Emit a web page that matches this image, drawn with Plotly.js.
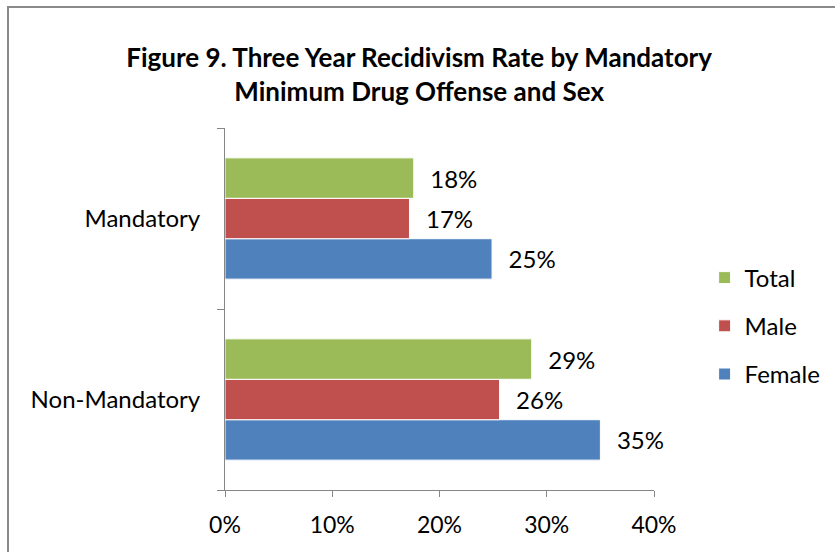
<!DOCTYPE html>
<html>
<head>
<meta charset="utf-8">
<script src="https://cdn.plot.ly/plotly-3.0.1.min.js"></script>
<style>
  html, body { margin:0; padding:0; background:#fff; overflow:hidden; }
  #wrap { position:relative; width:835px; height:552px; }
  #chart { position:absolute; left:0; top:0; width:835px; height:552px; }
  #frame { position:absolute; left:7px; top:6px; width:900px; height:600px;
           border:2px solid #8a8a8a; pointer-events:none; }
</style>
</head>
<body>
<div id="wrap">
  <div id="chart"></div>
  <div id="frame"></div>
</div>
<script>
// Data
const categories = ['Non-Mandatory', 'Mandatory'];
const femaleValues = [35.0, 24.9];
const maleValues   = [25.6, 17.2];
const totalValues  = [28.6, 17.6];
const seriesNames  = ['Female', 'Male', 'Total'];
const xTickVals    = [0, 10, 20, 30, 40];
const xTickText    = ['0%', '10%', '20%', '30%', '40%'];

const colors = ['#4F81BD', '#C0504D', '#9BBB59'];
const FONT = 'Lato, "Open Sans", sans-serif';

function mk(name, vals, color, i) {
  return {
    type: 'bar', orientation: 'h', name: name, legendgroup: 'g' + i,
    legendrank: 3 - i,
    y: categories, x: vals,
    marker: { color: color, line: { color: '#ffffff', width: 1 } },
    texttemplate: '\u2002\u200A%{x:.0f}%', textposition: 'outside',
    textfont: { family: FONT, size: 24, color: '#000' },
    cliponaxis: false, hoverinfo: 'skip'
  };
}

const data = [
  mk(seriesNames[0], femaleValues, colors[0], 0),
  mk(seriesNames[1], maleValues, colors[1], 1),
  mk(seriesNames[2], totalValues, colors[2], 2)
];

const layout = {
  width: 835, height: 552,
  margin: { l: 225, r: 181, t: 128, b: 62, autoexpand: false },
  paper_bgcolor: '#fff', plot_bgcolor: '#fff',
  font: { family: FONT, size: 24, color: '#000' },
  title: {
    text: '<b>Figure 9. Three Year Recidivism Rate by Mandatory<br>Minimum Drug Offense and Sex</b>',
    font: { family: FONT, size: 26, color: '#000' },
    x: 0.502, xref: 'container', xanchor: 'center',
    y: 0.878, yref: 'container', yanchor: 'top'
  },
  barmode: 'group', bargap: 0.33, bargroupgap: 0,
  xaxis: {
    range: [0, 40], tickvals: xTickVals, ticktext: xTickText,
    showgrid: false, zeroline: false,
    showline: true, linecolor: '#868686', linewidth: 1,
    ticks: 'outside', ticklen: 6, tickcolor: '#868686',
    ticklabelstandoff: 8,
    tickfont: { family: FONT, size: 23, color: '#000' },
    fixedrange: true
  },
  yaxis: {
    categoryorder: 'array', categoryarray: categories,
    showgrid: false, zeroline: false,
    showline: true, linecolor: '#868686', linewidth: 1,
    ticks: 'outside', ticklen: 7, tickcolor: '#868686',
    tickson: 'boundaries', ticklabelstandoff: 19,
    tickfont: { family: FONT, size: 24, color: '#000' },
    fixedrange: true
  },
  legend: {
    traceorder: 'grouped',
    x: 1.118, xanchor: 'left', y: 0.453, yanchor: 'middle',
    font: { family: FONT, size: 24, color: '#000' },
    tracegroupgap: 14, itemwidth: 30
  },
  showlegend: true
};

Plotly.newPlot('chart', data, layout, { staticPlot: true, displayModeBar: false });
</script>
</body>
</html>
